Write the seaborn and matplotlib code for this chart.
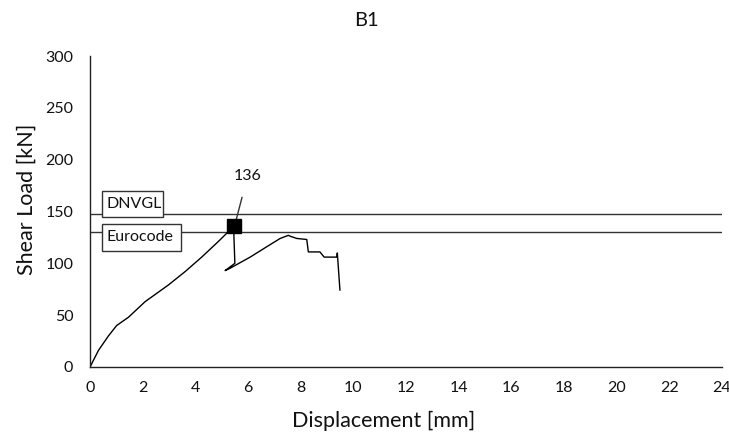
import matplotlib
matplotlib.use("Agg")
import matplotlib.pyplot as plt
from matplotlib.patches import Rectangle
import numpy as np
import pandas as pd
import seaborn as sns

# Load-displacement curve for specimen B1
displacement = [0.0, 0.32, 0.70, 1.01, 1.46, 2.09, 2.97, 3.61, 4.24, 4.87, 5.19, 5.45,
                5.50, 5.13, 5.30, 6.08, 6.71, 7.22, 7.53, 7.62, 7.85, 8.23, 8.29, 8.73,
                8.89, 9.37, 9.39, 9.49]
shear_load = [0, 16, 30, 40, 48, 63, 79, 92, 106, 121, 129, 136,
              100, 93, 95, 106, 116, 124, 127, 126, 124, 123, 111, 111,
              106, 106, 110, 74]

peak_disp = 5.45
peak_load = 136

# Design resistance levels
limit_names = ["DNVGL", "Eurocode"]
limit_values = [147.5, 130.5]

x_ticks = list(range(0, 25, 2))
y_ticks = list(range(0, 301, 50))

sns.set_style("white")
plt.rcParams["font.family"] = ["Lato", "DejaVu Sans"]

fig = plt.figure(figsize=(7.29, 4.42), dpi=100)
ax = fig.add_axes([0.1235, 0.1697, 0.867, 0.7036])

df = pd.DataFrame({"Displacement": displacement, "Load": shear_load})
sns.lineplot(data=df, x="Displacement", y="Load", sort=False, estimator=None,
             color="black", linewidth=1.0, ax=ax)

for val in limit_values:
    ax.axhline(val, color="#333333", linewidth=1.0, zorder=1)

# Boxed labels on the design lines
box_specs = [(0.44, 145, 2.33, 25), (0.44, 112, 3.0, 26)]
for name, (bx, by, bw, bh) in zip(limit_names, box_specs):
    ax.add_patch(Rectangle((bx, by), bw, bh, facecolor="white", edgecolor="#333333",
                           linewidth=1.0, zorder=3))
    ax.text(bx + 0.18, by + bh / 2, name, ha="left", va="center", fontsize=11.5,
            color="#111111", zorder=4)

ax.plot([peak_disp], [peak_load], marker="s", markersize=9.5, color="black", zorder=5)
ax.annotate(str(peak_load), xy=(peak_disp + 0.1, peak_load + 6), xytext=(5.98, 184),
            ha="center", va="center", fontsize=11.5, color="#111111",
            arrowprops=dict(arrowstyle="-", color="#333333", lw=1.0,
                            shrinkA=8, shrinkB=0))

ax.set_xlim(0, 24)
ax.set_ylim(0, 300)
ax.set_xticks(x_ticks)
ax.set_yticks(y_ticks)
ax.tick_params(axis="both", length=0, labelsize=11.5, colors="#111111")
ax.tick_params(axis="y", pad=12)
ax.tick_params(axis="x", pad=10)
ax.set_xlabel("Displacement [mm]", fontsize=15.5, color="#111111", labelpad=9)
ax.xaxis.set_label_coords(0.464, -0.14)
ax.set_ylabel("Shear Load [kN]", fontsize=15.5, color="#111111", labelpad=8)
ax.yaxis.set_label_coords(-0.085, 0.54)
fig.text(0.503, 0.954, "B1", ha="center", va="center", fontsize=14.5, color="#111111")

for side in ["top", "right"]:
    ax.spines[side].set_visible(False)
for side in ["left", "bottom"]:
    ax.spines[side].set_color("#222222")
    ax.spines[side].set_linewidth(1.0)

fig.savefig("out.png", dpi=100)
